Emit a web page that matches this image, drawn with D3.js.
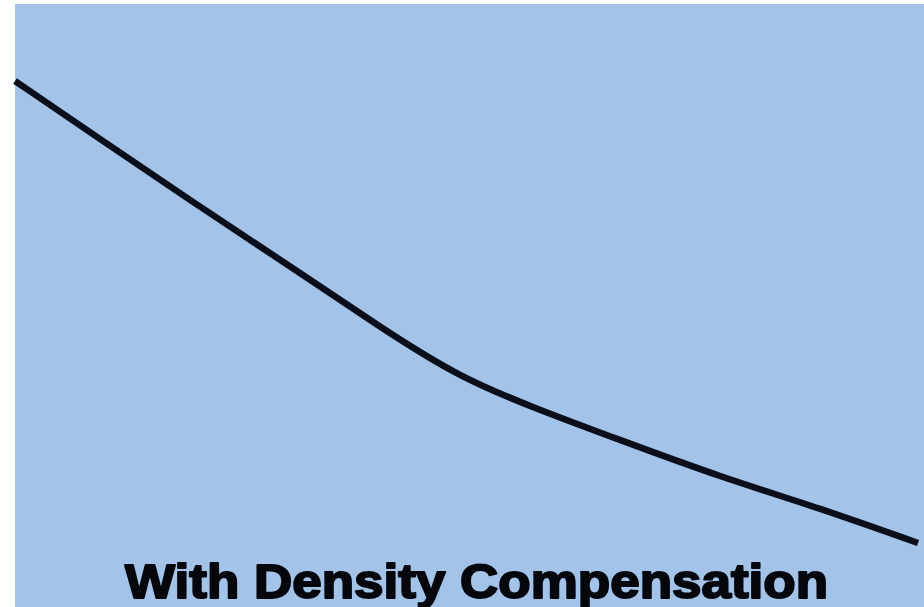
<!DOCTYPE html>
<html>
<head>
<meta charset="utf-8">
<script src="https://cdn.jsdelivr.net/npm/d3@7"></script>
<style>
  html, body { margin: 0; padding: 0; background: #ffffff; }
  svg { display: block; }
</style>
</head>
<body>
<svg id="chart" width="924" height="607"></svg>
<script>
// Data: normalized position (0-100) vs. relative level (0-100)
const positions = [0, 9.4, 20.5, 31.6, 40.4, 49.3, 58.1, 67, 78.1, 89.1, 100];
const levels    = [95.8, 84.2, 70.6, 57.4, 46.6, 36.4, 30, 24, 16.6, 10.4, 3.4];
const titleText = "With Density Compensation";

const W = 924, H = 607;
const svg = d3.select("#chart");

const panel = { left: 15, top: 4, right: 924, bottom: 607 };

svg.append("rect")
  .attr("x", panel.left).attr("y", panel.top)
  .attr("width", panel.right - panel.left)
  .attr("height", panel.bottom - panel.top)
  .attr("fill", "#a3c4e8");

const x = d3.scaleLinear().domain([0, 100]).range([15, 918]);
const y = d3.scaleLinear().domain([0, 100]).range([560, 60]);

const data = positions.map((p, i) => ({ p, v: levels[i] }));

const line = d3.line()
  .x(d => x(d.p))
  .y(d => y(d.v))
  .curve(d3.curveBasis);

svg.append("path")
  .datum(data)
  .attr("d", line)
  .attr("fill", "none")
  .attr("stroke", "#0b0f1c")
  .attr("stroke-width", 6.5)
  .attr("stroke-linecap", "butt")
  .attr("stroke-linejoin", "round");

svg.append("text")
  .attr("x", 476.5)
  .attr("y", 598)
  .attr("text-anchor", "middle")
  .attr("font-family", "'Liberation Sans', Arial, sans-serif")
  .attr("font-weight", "bold")
  .attr("font-size", 48)
  .attr("textLength", 703)
  .attr("lengthAdjust", "spacingAndGlyphs")
  .attr("fill", "#05070d")
  .attr("stroke", "#05070d")
  .attr("stroke-width", 2)
  .attr("stroke-linejoin", "round")
  .text(titleText);
</script>
</body>
</html>
